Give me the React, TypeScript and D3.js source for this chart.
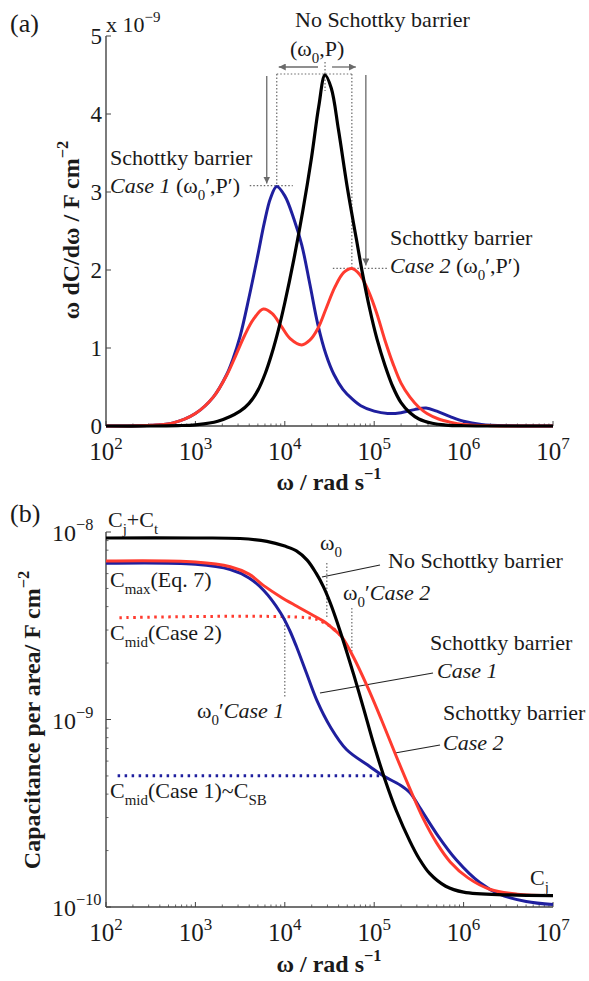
import React from 'react';
import * as d3 from 'd3';

// panel (a): [log10(omega), omega dC/domega in 1e-9 F cm^-2]
const aBlack: [number, number][] = [
  [2.0, 0], [2.5, 0], [2.8, 0.005], [3.0, 0.015], [3.25, 0.06], [3.5, 0.19], [3.6, 0.29],
  [3.7, 0.46], [3.78, 0.67], [3.85, 0.91], [3.93, 1.24], [4.0, 1.58], [4.1, 2.13], [4.2, 2.75],
  [4.3, 3.45], [4.38, 4.1], [4.45, 4.5], [4.52, 4.33], [4.6, 3.8], [4.7, 3.05], [4.8, 2.4],
  [4.87, 1.95], [4.95, 1.5], [5.03, 1.12], [5.12, 0.78], [5.21, 0.5], [5.3, 0.3], [5.4, 0.17],
  [5.5, 0.09], [5.65, 0.035], [5.8, 0.012], [6.0, 0.003], [6.5, 0], [7.0, 0],
];
const aBlue: [number, number][] = [
  [2.0, 0], [2.5, 0.01], [2.75, 0.04], [3.0, 0.16], [3.2, 0.37], [3.35, 0.66], [3.42, 0.86],
  [3.5, 1.15], [3.6, 1.65], [3.7, 2.2], [3.77, 2.6], [3.84, 2.92], [3.91, 3.07], [4.0, 2.95],
  [4.1, 2.66], [4.19, 2.32], [4.28, 1.82], [4.37, 1.3], [4.46, 0.92], [4.55, 0.66], [4.65, 0.47],
  [4.75, 0.35], [4.85, 0.26], [5.0, 0.19], [5.15, 0.16], [5.3, 0.17], [5.45, 0.21], [5.58, 0.23],
  [5.7, 0.19], [5.85, 0.12], [6.0, 0.06], [6.2, 0.02], [6.5, 0.003], [7.0, 0],
];
const aRed: [number, number][] = [
  [2.0, 0], [2.5, 0.01], [2.75, 0.04], [3.0, 0.16], [3.2, 0.37], [3.35, 0.65], [3.45, 0.9],
  [3.55, 1.16], [3.65, 1.37], [3.76, 1.5], [3.86, 1.44], [3.96, 1.28], [4.06, 1.12], [4.19, 1.04],
  [4.28, 1.1], [4.37, 1.25], [4.46, 1.5], [4.56, 1.78], [4.66, 1.97], [4.75, 2.02], [4.84, 1.94],
  [4.94, 1.72], [5.03, 1.44], [5.12, 1.1], [5.21, 0.8], [5.3, 0.55], [5.4, 0.37], [5.5, 0.24],
  [5.59, 0.16], [5.72, 0.09], [5.85, 0.05], [6.0, 0.02], [6.3, 0.004], [7.0, 0],
];
const aPeakBlack: [number, number] = [4.45, 4.5];
const aPeakBlue: [number, number] = [3.91, 3.07];
const aPeakRed: [number, number] = [4.75, 2.02];

// panel (b): [log10(omega), capacitance per area in F cm^-2]
const bBlack: [number, number][] = [
  [2.0, 9.29e-9], [3.0, 9.29e-9], [3.5, 9.23e-9], [3.8, 8.91e-9], [4.0, 8.41e-9], [4.13, 7.94e-9],
  [4.25, 7.08e-9], [4.35, 6.03e-9], [4.43, 5.13e-9], [4.51, 4.17e-9], [4.62, 2.95e-9],
  [4.77, 1.74e-9], [4.88, 1.15e-9], [5.0, 7.24e-10], [5.12, 4.79e-10], [5.25, 3.24e-10],
  [5.4, 2.24e-10], [5.5, 1.82e-10], [5.62, 1.51e-10], [5.8, 1.29e-10], [6.0, 1.2e-10],
  [6.5, 1.16e-10], [7.0, 1.15e-10],
];
const bRed: [number, number][] = [
  [2.0, 7.0e-9], [3.0, 6.92e-9], [3.39, 6.53e-9], [3.6, 5.96e-9], [3.76, 5.19e-9], [3.95, 4.52e-9],
  [4.13, 4.03e-9], [4.3, 3.63e-9], [4.43, 3.35e-9], [4.55, 3.02e-9], [4.64, 2.75e-9],
  [4.77, 2.14e-9], [4.92, 1.51e-9], [5.08, 1.0e-9], [5.25, 6.31e-10], [5.4, 4.27e-10],
  [5.55, 2.95e-10], [5.7, 2.19e-10], [5.85, 1.74e-10], [6.05, 1.43e-10], [6.3, 1.24e-10],
  [6.6, 1.17e-10], [7.0, 1.15e-10],
];
const bBlue: [number, number][] = [
  [2.0, 6.81e-9], [3.0, 6.73e-9], [3.39, 6.31e-9], [3.6, 5.69e-9], [3.76, 4.9e-9], [3.95, 3.72e-9],
  [4.05, 3.02e-9], [4.13, 2.45e-9], [4.24, 1.78e-9], [4.36, 1.26e-9], [4.51, 9.12e-10],
  [4.69, 6.92e-10], [4.95, 5.62e-10], [5.1, 5.01e-10], [5.29, 4.47e-10], [5.4, 4.07e-10],
  [5.51, 3.39e-10], [5.7, 2.45e-10], [5.92, 1.78e-10], [6.18, 1.35e-10], [6.4, 1.17e-10],
  [6.7, 1.07e-10], [7.0, 1.03e-10],
];
const bMidCase2: [number, number][] = [
  [2.15, 3.49e-9], [4.3, 3.47e-9], [4.42, 3.32e-9], [4.53, 3.09e-9], [4.64, 2.75e-9],
];
const bMidCase1: [number, number][] = [[2.13, 5.01e-10], [5.1, 5.01e-10]];
const bOmega0 = 4.47;
const bOmega0Case1 = 4.0;
const bOmega0Case2 = 4.75;

const xDecades = [2, 3, 4, 5, 6, 7];
const aYTicks = [0, 1, 2, 3, 4, 5];
const bYDecades = [-10, -9, -8];
const minorMult = [2, 3, 4, 5, 6, 7, 8, 9];

const W = 589;
const H = 981;
const serif = "'Liberation Serif', 'Times New Roman', serif";
const BLUE = '#1f1f9e';
const RED = '#ff3b2f';
const GREY = '#6a6a6a';
const AXIS = '#444';

const xA = d3.scaleLog().domain([1e2, 1e7]).range([106, 553]);
const yA = d3.scaleLinear().domain([0, 5]).range([426, 36]);
const xB = d3.scaleLog().domain([1e2, 1e7]).range([106, 553]);
const yB = d3.scaleLog().domain([1e-10, 1e-8]).range([907, 532]);

const lineA = d3.line<[number, number]>()
  .x((d) => xA(10 ** d[0]))
  .y((d) => yA(d[1]))
  .curve(d3.curveCatmullRom.alpha(0.5));
const lineB = d3.line<[number, number]>()
  .x((d) => xB(10 ** d[0]))
  .y((d) => yB(d[1]))
  .curve(d3.curveCatmullRom.alpha(0.5));

type Part = { t: string; s?: 'sub' | 'sup'; i?: boolean };

// sub/superscript runs as tspans
function rich(parts: Part[], size: number) {
  let cur = 0;
  return parts.map((p, k) => {
    const target = p.s === 'sub' ? size * 0.3 : p.s === 'sup' ? -size * 0.45 : 0;
    const dy = target - cur;
    cur = target;
    return (
      <tspan key={k} dy={dy || undefined} fontSize={p.s ? size * 0.68 : undefined}
        fontStyle={p.i ? 'italic' : undefined}>{p.t}</tspan>
    );
  });
}

function Label({ x, y, parts, size = 22, anchor = 'start', weight = 'normal' }:
  { x: number; y: number; parts: Part[]; size?: number; anchor?: string; weight?: string }) {
  return (
    <text x={x} y={y} fontSize={size} fontFamily={serif} textAnchor={anchor} fontWeight={weight}
      fill="#1a1a1a" style={{ whiteSpace: 'pre' }}>
      {rich(parts, size)}
    </text>
  );
}

function LogXAxis({ x, y0 }: { x: d3.ScaleLogarithmic<number, number>; y0: number }) {
  const minors: number[] = [];
  xDecades.slice(0, -1).forEach((d) => minorMult.forEach((m) => minors.push(m * 10 ** d)));
  return (
    <g>
      <line x1={x(1e2)} x2={x(1e7)} y1={y0} y2={y0} stroke={AXIS} strokeWidth={1.4} />
      {xDecades.map((d) => (
        <line key={d} x1={x(10 ** d)} x2={x(10 ** d)} y1={y0} y2={y0 - 5} stroke={AXIS} strokeWidth={1} />
      ))}
      {minors.map((v, k) => (
        <line key={k} x1={x(v)} x2={x(v)} y1={y0} y2={y0 - 2.5} stroke={AXIS} strokeWidth={0.8} />
      ))}
      {xDecades.map((d) => (
        <Label key={'l' + d} x={x(10 ** d)} y={y0 + 34} size={25} anchor="middle"
          parts={[{ t: '10' }, { t: String(d), s: 'sup' }]} />
      ))}
    </g>
  );
}

const dotted = { stroke: GREY, strokeWidth: 1.2, strokeDasharray: '1.5 2', fill: 'none' };
const solidThin = { stroke: '#222', strokeWidth: 1.2 };

export default function App() {
  const bx = xA(10 ** aPeakBlue[0]);
  const by = yA(aPeakBlue[1]);
  const rx = xA(10 ** aPeakRed[0]);
  const ry = yA(aPeakRed[1]);
  const kx = xA(10 ** aPeakBlack[0]);
  const ky = yA(aPeakBlack[1]);

  const bMinors: number[] = [];
  bYDecades.slice(0, -1).forEach((d) => minorMult.forEach((m) => bMinors.push(m * 10 ** d)));

  return (
    <svg width={W} height={H} style={{ position: 'absolute', left: 0, top: 0, background: '#fff' }}>
      <defs>
        <marker id="ah" viewBox="0 0 10 10" refX="10" refY="5" markerWidth="7" markerHeight="7"
          orient="auto-start-reverse" markerUnits="userSpaceOnUse">
          <path d="M0,0 L10,5 L0,10 z" fill={GREY} />
        </marker>
      </defs>

      {/* ---------- panel (a) ---------- */}
      <Label x={10} y={32} size={26} parts={[{ t: '(a)' }]} />
      <line x1={106} x2={106} y1={yA(5)} y2={yA(0)} stroke={AXIS} strokeWidth={1.4} />
      {aYTicks.map((v) => (
        <g key={v}>
          <line x1={106} x2={111} y1={yA(v)} y2={yA(v)} stroke={AXIS} strokeWidth={1} />
          <Label x={102} y={yA(v) + 8} size={23} anchor="end" parts={[{ t: String(v) }]} />
        </g>
      ))}
      <Label x={106} y={32} size={22} parts={[{ t: 'x 10' }, { t: '−9', s: 'sup' }]} />
      <LogXAxis x={xA} y0={yA(0)} />
      <Label x={329} y={490} size={24} anchor="middle" weight="bold"
        parts={[{ t: 'ω / rad s' }, { t: '−1', s: 'sup' }]} />
      <g transform="translate(79,230) rotate(-90)">
        <Label x={0} y={0} size={24} anchor="middle" weight="bold"
          parts={[{ t: 'ω dC/dω / F cm' }, { t: '−2', s: 'sup' }]} />
      </g>

      {/* annotation guides */}
      <line x1={bx} x2={rx} y1={ky - 1} y2={ky - 1} {...dotted} />
      <line x1={bx} x2={bx} y1={ky - 1} y2={by} {...dotted} />
      <line x1={rx} x2={rx} y1={ky - 1} y2={ry} {...dotted} />
      <line x1={bx - 27} x2={bx + 16} y1={by - 1} y2={by - 1} {...dotted} />
      <line x1={rx - 19} x2={rx + 36} y1={ry} y2={ry} {...dotted} />
      <line x1={kx} x2={kx} y1={ky - 13} y2={ky + 16} {...dotted} />
      <line x1={kx - 7} x2={bx + 2} y1={ky - 8} y2={ky - 8} stroke={GREY} strokeWidth={1.3} markerEnd="url(#ah)" />
      <line x1={kx + 7} x2={rx + 4} y1={ky - 8} y2={ky - 8} stroke={GREY} strokeWidth={1.3} markerEnd="url(#ah)" />
      <line x1={bx - 10} x2={bx - 10} y1={ky + 1} y2={by - 3} stroke={GREY} strokeWidth={1.3} markerEnd="url(#ah)" />
      <line x1={rx + 14} x2={rx + 14} y1={ky} y2={ry - 3} stroke={GREY} strokeWidth={1.3} markerEnd="url(#ah)" />

      <path d={lineA(aBlue) ?? ''} fill="none" stroke={BLUE} strokeWidth={3} />
      <path d={lineA(aRed) ?? ''} fill="none" stroke={RED} strokeWidth={3} />
      <path d={lineA(aBlack) ?? ''} fill="none" stroke="#000" strokeWidth={3.2} />

      <Label x={295} y={27} parts={[{ t: 'No Schottky barrier' }]} />
      <Label x={290} y={56} parts={[{ t: '(ω' }, { t: '0', s: 'sub' }, { t: ',P)' }]} />
      <Label x={110} y={165} parts={[{ t: 'Schottky barrier' }]} />
      <Label x={110} y={193} parts={[{ t: 'Case 1', i: true }, { t: ' (ω' }, { t: '0', s: 'sub' }, { t: '′,P′)' }]} />
      <Label x={390} y={245} parts={[{ t: 'Schottky barrier' }]} />
      <Label x={390} y={273} parts={[{ t: 'Case 2', i: true }, { t: ' (ω' }, { t: '0', s: 'sub' }, { t: '′,P′)' }]} />

      {/* ---------- panel (b) ---------- */}
      <Label x={10} y={522} size={26} parts={[{ t: '(b)' }]} />
      <line x1={106} x2={106} y1={yB(1e-8)} y2={yB(1e-10)} stroke={AXIS} strokeWidth={1.4} />
      {bYDecades.map((d) => (
        <g key={d}>
          <line x1={106} x2={111} y1={yB(10 ** d)} y2={yB(10 ** d)} stroke={AXIS} strokeWidth={1} />
          <Label x={52} y={yB(10 ** d) + 9} size={24} parts={[{ t: '10' }, { t: '−' + Math.abs(d), s: 'sup' }]} />
        </g>
      ))}
      {bMinors.map((v, k) => (
        <line key={k} x1={106} x2={108.5} y1={yB(v)} y2={yB(v)} stroke={AXIS} strokeWidth={0.8} />
      ))}
      <LogXAxis x={xB} y0={yB(1e-10)} />
      <Label x={329} y={972} size={24} anchor="middle" weight="bold"
        parts={[{ t: 'ω / rad s' }, { t: '−1', s: 'sup' }]} />
      <g transform="translate(40,720) rotate(-90)">
        <Label x={0} y={0} size={24} anchor="middle" weight="bold"
          parts={[{ t: 'Capacitance per area/ F cm' }, { t: '−2', s: 'sup' }]} />
      </g>

      {/* guides */}
      <line x1={xB(10 ** bOmega0)} x2={xB(10 ** bOmega0)} y1={563} y2={617} {...dotted} />
      <line x1={xB(10 ** bOmega0Case2)} x2={xB(10 ** bOmega0Case2)} y1={608} y2={653} {...dotted} />
      <line x1={xB(10 ** bOmega0Case1)} x2={xB(10 ** bOmega0Case1)} y1={618} y2={697} {...dotted} />
      <line x1={380} y1={565} x2={322} y2={577} {...solidThin} />
      <line x1={433} y1={673} x2={320} y2={693} {...solidThin} />
      <line x1={440} y1={745} x2={395} y2={753} {...solidThin} />

      <path d={lineB(bMidCase2) ?? ''} fill="none" stroke={RED} strokeWidth={3} strokeDasharray="2.5 4.5" />
      <path d={lineB(bMidCase1) ?? ''} fill="none" stroke={BLUE} strokeWidth={3} strokeDasharray="2.5 4.5" />
      <path d={lineB(bBlue) ?? ''} fill="none" stroke={BLUE} strokeWidth={3} />
      <path d={lineB(bRed) ?? ''} fill="none" stroke={RED} strokeWidth={3} />
      <path d={lineB(bBlack) ?? ''} fill="none" stroke="#000" strokeWidth={3.2} />

      <Label x={108} y={527} parts={[{ t: 'C' }, { t: 'j', s: 'sub' }, { t: '+C' }, { t: 't', s: 'sub' }]} />
      <Label x={110} y={587} parts={[{ t: 'C' }, { t: 'max', s: 'sub' }, { t: '(Eq. 7)' }]} />
      <Label x={110} y={640} parts={[{ t: 'C' }, { t: 'mid', s: 'sub' }, { t: '(Case 2)' }]} />
      <Label x={197} y={718} parts={[{ t: 'ω' }, { t: '0', s: 'sub' }, { t: '′' }, { t: 'Case 1', i: true }]} />
      <Label x={320} y={550} parts={[{ t: 'ω' }, { t: '0', s: 'sub' }]} />
      <Label x={388} y={568} parts={[{ t: 'No Schottky barrier' }]} />
      <Label x={343} y={600} parts={[{ t: 'ω' }, { t: '0', s: 'sub' }, { t: '′' }, { t: 'Case 2', i: true }]} />
      <Label x={430} y={650} parts={[{ t: 'Schottky barrier' }]} />
      <Label x={437} y={678} parts={[{ t: 'Case 1', i: true }]} />
      <Label x={443} y={720} parts={[{ t: 'Schottky barrier' }]} />
      <Label x={443} y={750} parts={[{ t: 'Case 2', i: true }]} />
      <Label x={110} y={798} parts={[{ t: 'C' }, { t: 'mid', s: 'sub' }, { t: '(Case 1)~C' }, { t: 'SB', s: 'sub' }]} />
      <Label x={530} y={885} parts={[{ t: 'C' }, { t: 'j', s: 'sub' }]} />
    </svg>
  );
}
